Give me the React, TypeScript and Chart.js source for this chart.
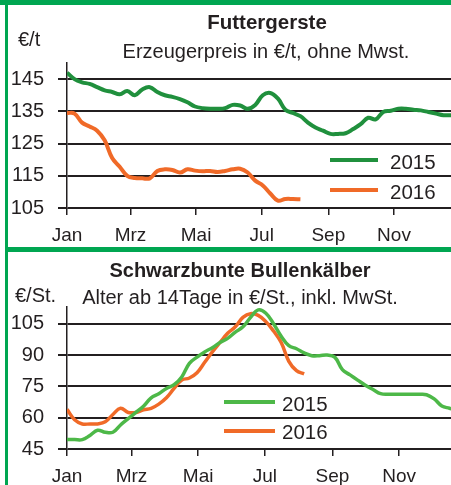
import React, { useEffect, useRef } from "react";
import { Chart, registerables } from "chart.js";

Chart.register(...registerables);

// ---- Data (weekly values) ----
const monthLabels = ["Jan", "Mrz", "Mai", "Jul", "Sep", "Nov"];
const monthStartWeeks = [0, 8.43, 17.14, 25.86, 34.71, 43.43];

const gerste2015 = [
  147, 145, 144, 143.5, 142.5, 141.5, 141, 140.3, 141.3, 140, 141.8, 142.5, 141, 140, 139.5,
  138.8, 137.8, 136.5, 136, 135.8, 135.8, 136, 137, 136.8, 135.8, 137, 140, 140.7, 139, 135.5,
  134.5, 133.5, 131.5, 130, 129, 128, 128, 128.2, 129.5, 131, 133, 132.5, 134.8, 135.2, 135.8,
  135.8, 135.5, 135.3, 134.8, 134.3, 133.8, 133.8,
];
const gerste2016 = [
  134.5, 134.3, 131.5, 130.3, 129, 126, 120.5, 117.8, 115, 114.3, 114.2, 114.2, 116.5, 117,
  116.8, 116, 117, 116.6, 116.4, 116.5, 116.2, 116.5, 117, 117.2, 116, 113.5, 112, 109.5, 107.3,
  107.8, 107.8, 107.7,
];
const kaelber2015 = [
  49.5, 49.5, 49.5, 51.5, 54, 53, 53, 56.5, 59.5, 62.5, 65.5, 69.5, 71.5, 74, 75.8, 79.5, 86, 89,
  91.5, 93.5, 96, 98, 101, 103.5, 108, 111.6, 110, 105, 99, 94.5, 93, 91, 89.7, 89.7, 90, 89, 83,
  80.5, 78, 75.5, 73.5, 71.5, 71.2, 71.2, 71.2, 71.2, 71.2, 71, 69, 65.6, 64.5, 63.5,
];
const kaelber2016 = [
  64, 59, 57, 57, 57, 58, 61.5, 64.5, 62.5, 62.5, 63.8, 64.5, 66.5, 69.5, 74, 78, 79, 81.5, 86.5,
  91.5, 96, 100.4, 103.5, 108, 109.8, 109, 106, 101.5, 96, 87, 82.5, 81,
];

const gersteTicks = [105, 115, 125, 135, 145];
const kaelberTicks = [45, 60, 75, 90, 105];
const seriesLabels = ["2015", "2016"];

// ---- Styles ----
const DARK = "#231f20";
const FONT = "'Liberation Sans', Arial, sans-serif";
const BORDER_GREEN = "#00a651";
const GREEN_TOP = "#20903d";
const GREEN_BOTTOM = "#4db848";
const ORANGE = "#f06a28";

const toPoints = (arr: number[]) => arr.map((v, i) => ({ x: i, y: v }));

function makeConfig(
  s2015: number[],
  s2016: number[],
  c2015: string,
  c2016: string,
  lw: number,
  yMin: number,
  yMax: number,
  yTicks: number[],
  xMax: number,
  padTop: number,
  xAxisHeight: number
): any {
  return {
    type: "line",
    data: {
      datasets: [
        {
          label: seriesLabels[0],
          data: toPoints(s2015),
          borderColor: c2015,
          borderWidth: lw,
          pointRadius: 0,
          tension: 0.4,
          fill: false,
        },
        {
          label: seriesLabels[1],
          data: toPoints(s2016),
          borderColor: c2016,
          borderWidth: lw,
          pointRadius: 0,
          tension: 0.4,
          fill: false,
        },
      ],
    },
    options: {
      animation: false,
      responsive: false,
      layout: { padding: { top: padTop, left: 0, right: 0, bottom: 0 } },
      plugins: {
        legend: { display: false },
        tooltip: { enabled: false },
        title: { display: false },
      },
      scales: {
        x: {
          type: "linear",
          min: 0,
          max: xMax,
          afterFit: (s: any) => {
            s.height = xAxisHeight;
          },
          afterBuildTicks: (s: any) => {
            s.ticks = monthStartWeeks.map((v) => ({ value: v }));
          },
          ticks: {
            autoSkip: false,
            maxRotation: 0,
            padding: 9,
            color: DARK,
            font: { family: FONT, size: 19 },
            callback: (_v: any, i: number) => monthLabels[i],
          },
          grid: {
            drawOnChartArea: false,
            drawTicks: true,
            tickLength: 7,
            color: DARK,
            lineWidth: 1.5,
          },
          border: { display: false },
        },
        y: {
          type: "linear",
          min: yMin,
          max: yMax,
          afterFit: (s: any) => {
            s.width = 67;
          },
          afterBuildTicks: (s: any) => {
            s.ticks = yTicks.map((v) => ({ value: v }));
          },
          ticks: {
            padding: 14,
            color: DARK,
            font: { family: FONT, size: 20 },
          },
          grid: { color: DARK, lineWidth: 2, tickLength: 9 },
          border: { display: true, color: DARK, width: 1.5 },
        },
      },
    },
  };
}

const abs = (style: React.CSSProperties): React.CSSProperties => ({
  position: "absolute",
  whiteSpace: "nowrap",
  lineHeight: 1,
  color: DARK,
  fontFamily: FONT,
  ...style,
});

export default function App() {
  const topRef = useRef<HTMLCanvasElement>(null);
  const botRef = useRef<HTMLCanvasElement>(null);

  useEffect(() => {
    const c1 = new Chart(
      topRef.current as HTMLCanvasElement,
      makeConfig(gerste2015, gerste2016, GREEN_TOP, ORANGE, 4, 105, 150, gersteTicks, 51, 63, 37)
    );
    const c2 = new Chart(
      botRef.current as HTMLCanvasElement,
      makeConfig(kaelber2015, kaelber2016, GREEN_BOTTOM, ORANGE, 3.5, 45, 113, kaelberTicks, 50.2, 55, 36)
    );
    return () => {
      c1.destroy();
      c2.destroy();
    };
  }, []);

  return (
    <div
      style={{
        position: "absolute",
        left: 0,
        top: 0,
        width: 451,
        height: 485,
        background: "#fff",
        overflow: "hidden",
      }}
    >
      <canvas
        ref={topRef}
        width={451}
        height={245}
        style={{ position: "absolute", left: 0, top: 0, width: 451, height: 245 }}
      />
      <canvas
        ref={botRef}
        width={451}
        height={233}
        style={{ position: "absolute", left: 0, top: 252, width: 451, height: 233 }}
      />

      {/* green frame */}
      <div style={{ position: "absolute", left: 0, top: 0, width: 451, height: 5, background: BORDER_GREEN }} />
      <div style={{ position: "absolute", left: 5, top: 0, width: 3, height: 485, background: BORDER_GREEN }} />
      <div style={{ position: "absolute", left: 5, top: 247, width: 446, height: 5, background: BORDER_GREEN }} />

      {/* top panel text */}
      <div style={abs({ left: 267, top: 12, fontSize: 20.5, fontWeight: "bold", transform: "translateX(-50%)" })}>
        Futtergerste
      </div>
      <div style={abs({ left: 266, top: 41, fontSize: 20, transform: "translateX(-50%)" })}>
        Erzeugerpreis in €/t, ohne Mwst.
      </div>
      <div style={abs({ left: 18, top: 29, fontSize: 20 })}>€/t</div>

      <div style={{ position: "absolute", left: 330, top: 158, width: 48, height: 4, background: GREEN_TOP }} />
      <div style={abs({ left: 390, top: 152, fontSize: 20.5 })}>{seriesLabels[0]}</div>
      <div style={{ position: "absolute", left: 330, top: 188, width: 48, height: 4, background: ORANGE }} />
      <div style={abs({ left: 390, top: 182, fontSize: 20.5 })}>{seriesLabels[1]}</div>

      {/* bottom panel text */}
      <div style={abs({ left: 240, top: 260, fontSize: 20, fontWeight: "bold", transform: "translateX(-50%)" })}>
        Schwarzbunte Bullenkälber
      </div>
      <div style={abs({ left: 240, top: 287, fontSize: 20, transform: "translateX(-50%)" })}>
        Alter ab 14Tage in €/St., inkl. MwSt.
      </div>
      <div style={abs({ left: 15, top: 285, fontSize: 20 })}>€/St.</div>

      <div style={{ position: "absolute", left: 224, top: 400, width: 51, height: 4, background: GREEN_BOTTOM }} />
      <div style={abs({ left: 282, top: 394, fontSize: 20.5 })}>{seriesLabels[0]}</div>
      <div style={{ position: "absolute", left: 224, top: 429, width: 51, height: 4, background: ORANGE }} />
      <div style={abs({ left: 282, top: 422, fontSize: 20.5 })}>{seriesLabels[1]}</div>
    </div>
  );
}
